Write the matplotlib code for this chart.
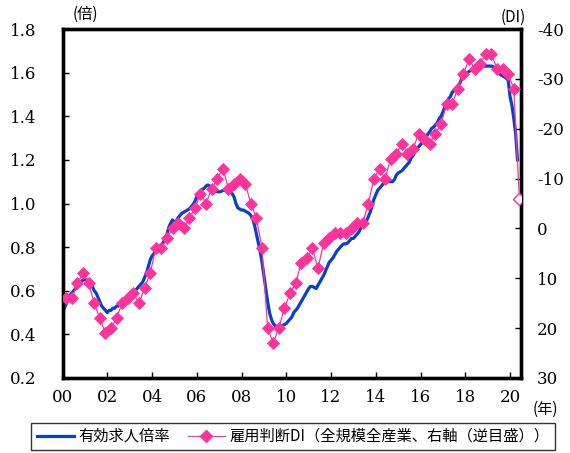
import numpy as np
import matplotlib
matplotlib.use("Agg")
import matplotlib.pyplot as plt
from matplotlib.lines import Line2D

plt.rcParams['axes.unicode_minus'] = False

# monthly jobs-to-applicants ratio, Jan 2000 - May 2020
jobs_ratio = [
    0.50, 0.52, 0.54, 0.56, 0.58, 0.59, 0.60, 0.61, 0.62, 0.63, 0.64, 0.65,
    0.65, 0.65, 0.64, 0.63, 0.62, 0.60, 0.59, 0.57, 0.55, 0.53, 0.52, 0.51,
    0.50, 0.51, 0.51, 0.52, 0.52, 0.53, 0.53, 0.54, 0.54, 0.55, 0.56, 0.57,
    0.58, 0.59, 0.60, 0.60, 0.61, 0.62, 0.63, 0.64, 0.66, 0.68, 0.71, 0.74,
    0.76, 0.77, 0.78, 0.79, 0.80, 0.81, 0.82, 0.84, 0.86, 0.89, 0.91, 0.925,
    0.915, 0.92, 0.935, 0.945, 0.955, 0.96, 0.965, 0.97, 0.975, 0.985, 0.995, 1.01,
    1.03, 1.04, 1.055, 1.065, 1.07, 1.08, 1.085, 1.08, 1.07, 1.06, 1.055, 1.055,
    1.053, 1.055, 1.06, 1.06, 1.06, 1.055, 1.053, 1.045, 1.03, 1.00, 0.98, 0.975,
    0.97, 0.97, 0.965, 0.96, 0.955, 0.945, 0.93, 0.90, 0.86, 0.82, 0.78, 0.73,
    0.67, 0.61, 0.55, 0.50, 0.47, 0.45, 0.44, 0.435, 0.435, 0.44, 0.44, 0.445,
    0.45, 0.46, 0.47, 0.48, 0.50, 0.51, 0.52, 0.535, 0.55, 0.565, 0.58, 0.595,
    0.61, 0.62, 0.62, 0.615, 0.61, 0.625, 0.64, 0.655, 0.67, 0.69, 0.71, 0.73,
    0.74, 0.75, 0.765, 0.78, 0.79, 0.80, 0.81, 0.815, 0.815, 0.82, 0.83, 0.84,
    0.84, 0.85, 0.86, 0.87, 0.89, 0.90, 0.91, 0.92, 0.94, 0.96, 0.99, 1.02,
    1.04, 1.06, 1.07, 1.08, 1.09, 1.10, 1.10, 1.10, 1.10, 1.10, 1.11, 1.13,
    1.14, 1.145, 1.15, 1.16, 1.17, 1.18, 1.19, 1.21, 1.22, 1.24, 1.25, 1.26,
    1.27, 1.28, 1.29, 1.305, 1.32, 1.33, 1.345, 1.35, 1.36, 1.37, 1.39, 1.40,
    1.42, 1.44, 1.46, 1.48, 1.49, 1.51, 1.52, 1.53, 1.54, 1.55, 1.57, 1.58,
    1.59, 1.60, 1.605, 1.61, 1.615, 1.62, 1.62, 1.625, 1.625, 1.627, 1.63, 1.63,
    1.63, 1.63, 1.63, 1.627, 1.62, 1.605, 1.597, 1.59, 1.585, 1.58, 1.575, 1.566,
    1.49, 1.45, 1.39, 1.32, 1.20,
]

# Tankan employment DI (all sizes, all industries), quarterly 2000Q1 - 2020Q2
employment_di = [
    14, 14, 11, 9,
    11, 15, 18, 21,
    20, 18, 15, 14,
    13, 15, 12, 9,
    4, 4, 2, 0,
    -1, 0, -2, -4,
    -7, -5, -8, -10,
    -12, -8, -9, -10,
    -9, -5, -2, 4,
    20, 23, 20, 16,
    13, 11, 7, 6,
    4, 8, 3, 2,
    1, 1, 1, 0,
    -1, -1, -5, -10,
    -12, -10, -14, -15,
    -17, -15, -16, -19,
    -18, -17, -19, -21,
    -25, -25, -28, -31,
    -34, -32, -33, -35,
    -35, -32, -32, -31,
    -28, -6,
]

year_labels = ["00", "02", "04", "06", "08", "10", "12", "14", "16", "18", "20"]
left_ticks = [0.2, 0.4, 0.6, 0.8, 1.0, 1.2, 1.4, 1.6, 1.8]
right_ticks = [-40, -30, -20, -10, 0, 10, 20, 30]

BLUE = "#0a3fc8"
PINK = "#ff3399"
JP = ["Noto Sans CJK JP", "DejaVu Sans"]
NUM = "DejaVu Serif"

W, H = 570, 453
fig = plt.figure(figsize=(W / 100, H / 100), dpi=100)
ax = fig.add_axes([62.5 / W, 1 - 378 / H, (520.5 - 62.5) / W, (378 - 29) / H])
ax2 = ax.twinx()

months = np.arange(len(jobs_ratio))
di_months = np.arange(len(employment_di)) * 3 + 2

ax.plot(months, jobs_ratio, color=BLUE, lw=2.3, zorder=3)
ax2.plot(di_months, employment_di, color=PINK, lw=0.9, marker="D",
         markersize=5.8, markeredgewidth=0.6, zorder=4)
# latest survey shown as a hollow marker
ax2.plot(di_months[-1:], employment_di[-1:], ls="none", marker="D",
         markersize=5.8, markerfacecolor="white", markeredgecolor=PINK,
         markeredgewidth=1.0, zorder=5)

ax.set_xlim(0, 245.6)
ax.set_ylim(0.2, 1.8)
ax2.set_ylim(30, -40)

ax.set_xticks(np.arange(len(year_labels)) * 24)
ax.set_xticklabels(year_labels)
ax.set_yticks(left_ticks)
ax.set_yticklabels([f"{v:.1f}" for v in left_ticks])
ax2.set_yticks(right_ticks)
ax2.set_yticklabels([str(v) for v in right_ticks])

for a in (ax, ax2):
    for s in a.spines.values():
        s.set_linewidth(2.4)
        s.set_color("black")
ax.tick_params(axis="x", direction="in", length=4, width=1, pad=8, labelsize=12)
ax.tick_params(axis="y", direction="in", length=4, width=1, pad=19, labelsize=12)
ax2.tick_params(axis="y", direction="in", length=4, width=1, pad=12, labelsize=12)
for lbl in ax.get_xticklabels() + ax.get_yticklabels() + ax2.get_yticklabels():
    lbl.set_family(NUM)

fig.text(85 / W, 1 - 14 / H, "(倍)", ha="center", va="center",
         fontsize=11, family=JP)
fig.text(513 / W, 1 - 17 / H, "(DI)", ha="center", va="center",
         fontsize=11, family=JP)
fig.text(545 / W, 1 - 409 / H, "(年)", ha="center", va="center",
         fontsize=11, family=JP)

handles = [
    Line2D([], [], color=BLUE, lw=2.3),
    Line2D([], [], color=PINK, lw=0.9, marker="D", markersize=5.8),
]
labels = ["有効求人倍率", "雇用判断DI（全規模全産業、右軸（逆目盛））"]
leg = fig.legend(handles, labels, loc="center", ncol=2,
                 bbox_to_anchor=(293 / W, 1 - 436.5 / H),
                 prop={"family": JP, "size": 11}, frameon=True,
                 fancybox=False, edgecolor="black", handlelength=2.4,
                 columnspacing=1.2, handletextpad=0.3, borderpad=0.35)
leg.get_frame().set_linewidth(1.0)

fig.savefig("out.png", dpi=100)
